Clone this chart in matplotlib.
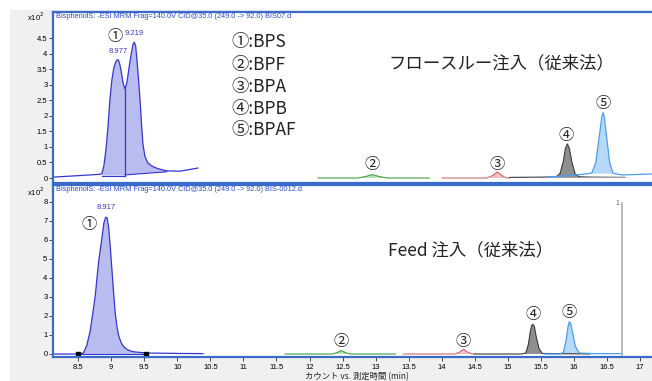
import numpy as np
import matplotlib
matplotlib.use('Agg')
import matplotlib.pyplot as plt
from matplotlib.patches import Rectangle

plt.rcParams['font.family'] = ['Noto Sans CJK JP', 'DejaVu Sans']

# ---- 上段: フロースルー注入 (retention time [min], counts x10^2) ----
top_bps_t = [8.00, 8.40, 8.70, 8.73, 8.76, 8.79, 8.82, 8.85, 8.88, 8.91, 8.94, 8.96, 8.977, 9.00,
             9.02, 9.05, 9.08, 9.11, 9.14, 9.17, 9.20, 9.219, 9.24, 9.26, 9.29, 9.31, 9.33,
             9.35, 9.38, 9.42, 9.46, 9.52, 9.58, 9.71, 9.91, 10.18]
top_bps_v = [0.03, 0.08, 0.12, 0.15, 0.4, 0.9, 1.6, 2.5, 3.15, 3.55, 3.74, 3.8, 3.8, 3.66,
             3.45, 3.05, 2.86, 3.1, 3.55, 3.95, 4.3, 4.37, 4.25, 3.8, 3.0, 2.4, 1.7,
             1.1, 0.7, 0.5, 0.42, 0.35, 0.3, 0.23, 0.22, 0.32]
top_bpf_t = [12.00, 12.60, 12.72, 12.82, 12.92, 13.05, 13.68]
top_bpf_v = [0.0, 0.0, 0.05, 0.11, 0.05, 0.0, 0.0]
top_bpa_t = [13.875, 14.55, 14.64, 14.71, 14.78, 14.85, 14.90]
top_bpa_v = [0.0, 0.0, 0.08, 0.2, 0.08, 0.0, 0.0]
top_bpb_t = [14.90, 15.40, 15.60, 15.66, 15.71, 15.74, 15.77, 15.80, 15.84, 15.89, 15.95, 16.10, 16.64]
top_bpb_v = [0.02, 0.03, 0.04, 0.15, 0.55, 0.95, 1.1, 0.95, 0.5, 0.12, 0.04, 0.03, 0.02]
top_bpaf_t = [15.46, 15.80, 16.00, 16.14, 16.20, 16.25, 16.29, 16.31, 16.33, 16.37, 16.41, 16.46, 16.60, 17.05]
top_bpaf_v = [0.03, 0.08, 0.12, 0.16, 0.5, 1.3, 1.95, 2.1, 1.95, 1.2, 0.5, 0.15, 0.1, 0.13]

# ---- 下段: Feed 注入 ----
bot_bps_t = [8.12, 8.50, 8.58, 8.63, 8.68, 8.72, 8.76, 8.81, 8.86, 8.89, 8.917, 8.94, 8.96,
             8.985, 9.01, 9.035, 9.06, 9.085, 9.11, 9.15, 9.19, 9.25, 9.33, 9.54, 10.00, 10.39]
bot_bps_v = [0.0, 0.0, 0.05, 0.45, 1.17, 2.1, 3.1, 4.86, 6.1, 6.9, 7.2, 7.15, 6.7,
             5.7, 4.5, 3.3, 2.2, 1.5, 1.0, 0.6, 0.38, 0.22, 0.12, 0.05, 0.03, 0.02]
bot_bpf_t = [11.63, 12.35, 12.42, 12.48, 12.54, 12.61, 13.30]
bot_bpf_v = [0.0, 0.0, 0.08, 0.18, 0.08, 0.0, 0.0]
bot_bpa_t = [13.42, 14.20, 14.27, 14.33, 14.39, 14.46, 14.50]
bot_bpa_v = [0.0, 0.0, 0.1, 0.25, 0.1, 0.0, 0.0]
bot_bpb_t = [14.50, 15.20, 15.27, 15.31, 15.34, 15.36, 15.38, 15.40, 15.43, 15.47, 15.52, 16.24]
bot_bpb_v = [0.0, 0.0, 0.05, 0.5, 1.2, 1.5, 1.56, 1.45, 0.9, 0.3, 0.03, 0.0]
bot_bpaf_t = [15.55, 15.80, 15.84, 15.88, 15.91, 15.93, 15.95, 15.98, 16.02, 16.08, 16.30, 16.73]
bot_bpaf_v = [0.0, 0.0, 0.1, 0.7, 1.45, 1.7, 1.6, 1.1, 0.4, 0.05, 0.02, 0.02]

peak_names = ['BPS', 'BPF', 'BPA', 'BPB', 'BPAF']
circled = ['①', '②', '③', '④', '⑤']

top_header = 'BisphenolS: -ESI MRM Frag=140.0V CID@35.0 (249.0 -> 92.0) BIS07.d'
bot_header = 'BisphenolS: -ESI MRM Frag=140.0V CID@35.0 (249.0 -> 92.0) BIS-0012.d'

W, H = 652, 381
FRAME = '#3a6bc9'
BLUE = '#3535d0'


def fx(px):
    return px / W


def fy(py):
    return 1 - py / H


def fill_peak(ax, t, v, a, b, base_a, base_b, color, line=None):
    t = np.array(t)
    v = np.array(v)
    m = (t >= a) & (t <= b)
    xs = np.concatenate([t[m], [b, a]])
    ys = np.concatenate([v[m], [base_b, base_a]])
    ax.fill(xs, ys, color=color, lw=0)
    if line:
        ax.plot([a, b], [base_a, base_b], color=line, lw=0.8)


fig = plt.figure(figsize=(W / 100, H / 100), dpi=100)
fig.patches.append(Rectangle((fx(10), 0), 1, fy(10), transform=fig.transFigure,
                             color='#f0f0f0', zorder=-10))

ax1 = fig.add_axes([fx(53), fy(183), fx(W - 53), (183 - 12) / H])
ax2 = fig.add_axes([fx(53), fy(357), fx(W - 53), (357 - 185) / H])

for ax in (ax1, ax2):
    ax.set_facecolor('white')
    for s in ('left', 'top', 'bottom'):
        ax.spines[s].set_color(FRAME)
        ax.spines[s].set_linewidth(1.6)
    ax.spines['right'].set_visible(False)
    ax.tick_params(axis='y', length=3, width=0.6, labelsize=5.5, pad=1, color='#333333')

# 上段
ax1.set_xlim(7.99, 17.05)
ax1.set_ylim(-0.16, 5.34)
ax1.set_xticks([])
ax1.set_yticks(np.arange(0, 4.6, 0.5))
ax1.set_yticklabels(['0', '0.5', '1', '1.5', '2', '2.5', '3', '3.5', '4', '4.5'],
                    family='Liberation Sans', fontsize=5.5)

fill_peak(ax1, top_bps_t, top_bps_v, 8.73, 9.08, 0.08, 0.08, '#b9bcef', BLUE)
fill_peak(ax1, top_bps_t, top_bps_v, 9.08, 9.71, 0.1, 0.2, '#b9bcef', BLUE)
ax1.plot([9.08, 9.08], [0.08, 2.86], color=BLUE, lw=0.9)
ax1.plot(top_bps_t, top_bps_v, color=BLUE, lw=0.9)

fill_peak(ax1, top_bpf_t, top_bpf_v, 12.65, 13.0, 0.0, 0.0, '#b9e0b9')
ax1.plot(top_bpf_t, top_bpf_v, color='#3fa23f', lw=0.8)
fill_peak(ax1, top_bpa_t, top_bpa_v, 14.6, 14.82, 0.0, 0.0, '#f0c0c0')
ax1.plot(top_bpa_t, top_bpa_v, color='#d06a6a', lw=0.8)
fill_peak(ax1, top_bpb_t, top_bpb_v, 15.6, 15.95, 0.03, 0.03, '#8f8f8f', '#a0a0a0')
ax1.plot(top_bpb_t, top_bpb_v, color='#3a3a3a', lw=0.8)
ax1.plot([15.95, 16.64], [0.02, 0.02], color='#a0a0a0', lw=0.8)
fill_peak(ax1, top_bpaf_t, top_bpaf_v, 16.14, 16.46, 0.14, 0.14, '#b5d9f7')
ax1.plot(top_bpaf_t, top_bpaf_v, color='#4a9ef0', lw=0.9)

ax1.text(8.977, 3.95, '8.977', color=BLUE, fontsize=5.5, ha='center', va='bottom',
         family='Liberation Sans')
ax1.text(9.219, 4.52, '9.219', color=BLUE, fontsize=5.5, ha='center', va='bottom',
         family='Liberation Sans')
top_lab_t = [8.93, 12.82, 14.71, 15.75, 16.31]
top_lab_v = [4.55, 0.42, 0.45, 1.38, 2.41]
for c, t, v in zip(circled, top_lab_t, top_lab_v):
    ax1.text(t, v, c, fontsize=11, ha='center', va='center', color='#222222')
ax1.text(0.005, 0.995, top_header, transform=ax1.transAxes, color='#2a4fd0', fontsize=5.3,
         va='top', ha='left', family='Liberation Sans')

# 下段
ax2.set_xlim(8.12, 17.18)
ax2.set_ylim(-0.158, 8.89)
ax2.set_yticks(range(0, 9))
ax2.set_yticklabels([str(i) for i in range(9)], family='Liberation Sans', fontsize=5.5)
xt = np.arange(8.5, 17.01, 0.5)
ax2.set_xticks(xt)
ax2.set_xticklabels([('%g' % x) for x in xt], family='Liberation Sans', fontsize=5.5)
ax2.tick_params(axis='x', length=3, width=0.6, pad=2, color='#333333')

fill_peak(ax2, bot_bps_t, bot_bps_v, 8.5, 9.54, 0.0, 0.0, '#b9bcef', BLUE)
ax2.plot(bot_bps_t, bot_bps_v, color=BLUE, lw=0.9)
ax2.plot([8.5, 9.53], [0.0, 0.0], ls='none', marker='s', ms=3.5, color='black')

fill_peak(ax2, bot_bpf_t, bot_bpf_v, 12.38, 12.6, 0.0, 0.0, '#b9e0b9')
ax2.plot(bot_bpf_t, bot_bpf_v, color='#3fa23f', lw=0.8)
fill_peak(ax2, bot_bpa_t, bot_bpa_v, 14.22, 14.45, 0.0, 0.0, '#f0c0c0')
ax2.plot(bot_bpa_t, bot_bpa_v, color='#d06a6a', lw=0.8)
fill_peak(ax2, bot_bpb_t, bot_bpb_v, 15.25, 15.53, 0.0, 0.0, '#8f8f8f')
ax2.plot(bot_bpb_t, bot_bpb_v, color='#3a3a3a', lw=0.8)
fill_peak(ax2, bot_bpaf_t, bot_bpaf_v, 15.82, 16.09, 0.0, 0.0, '#b5d9f7')
ax2.plot(bot_bpaf_t, bot_bpaf_v, color='#4a9ef0', lw=0.9)

ax2.plot([16.73, 16.73], [-0.1, 7.95], color='#b0b0b0', lw=1.2)
ax2.text(16.66, 7.9, '1', fontsize=5, color='#666666', ha='center', va='center',
         family='Liberation Sans')

ax2.text(8.917, 7.5, '8.917', color=BLUE, fontsize=5.5, ha='center', va='bottom',
         family='Liberation Sans')
bot_lab_t = [8.67, 12.48, 14.33, 15.38, 15.93]
bot_lab_v = [6.8, 0.68, 0.68, 2.1, 2.2]
for c, t, v in zip(circled, bot_lab_t, bot_lab_v):
    ax2.text(t, v, c, fontsize=11, ha='center', va='center', color='#222222')
ax2.text(0.005, 0.995, bot_header, transform=ax2.transAxes, color='#2a4fd0', fontsize=5.3,
         va='top', ha='left', family='Liberation Sans')

# 凡例とタイトル
leg_y = [42, 65, 87, 109, 130]
for c, n, y in zip(circled, peak_names, leg_y):
    fig.text(fx(231), fy(y), c + ':' + n, fontsize=12.5, va='center', ha='left', color='#222222')
fig.text(fx(388), fy(63), 'フロースルー注入（従来法）', fontsize=12.5, va='center', ha='left',
         color='#222222')
fig.text(fx(388), fy(250), 'Feed 注入（従来法）', fontsize=12.5, va='center', ha='left',
         color='#222222')

fig.text(fx(27), fy(17), 'x10$^{2}$', fontsize=5.5, va='center', ha='left',
         family='Liberation Sans')
fig.text(fx(27), fy(192), 'x10$^{2}$', fontsize=5.5, va='center', ha='left',
         family='Liberation Sans')
fig.text(fx(357), fy(377), 'カウント vs. 測定時間 (min)', fontsize=6, va='center', ha='center',
         color='#222222')

fig.savefig('out.png', dpi=100)
